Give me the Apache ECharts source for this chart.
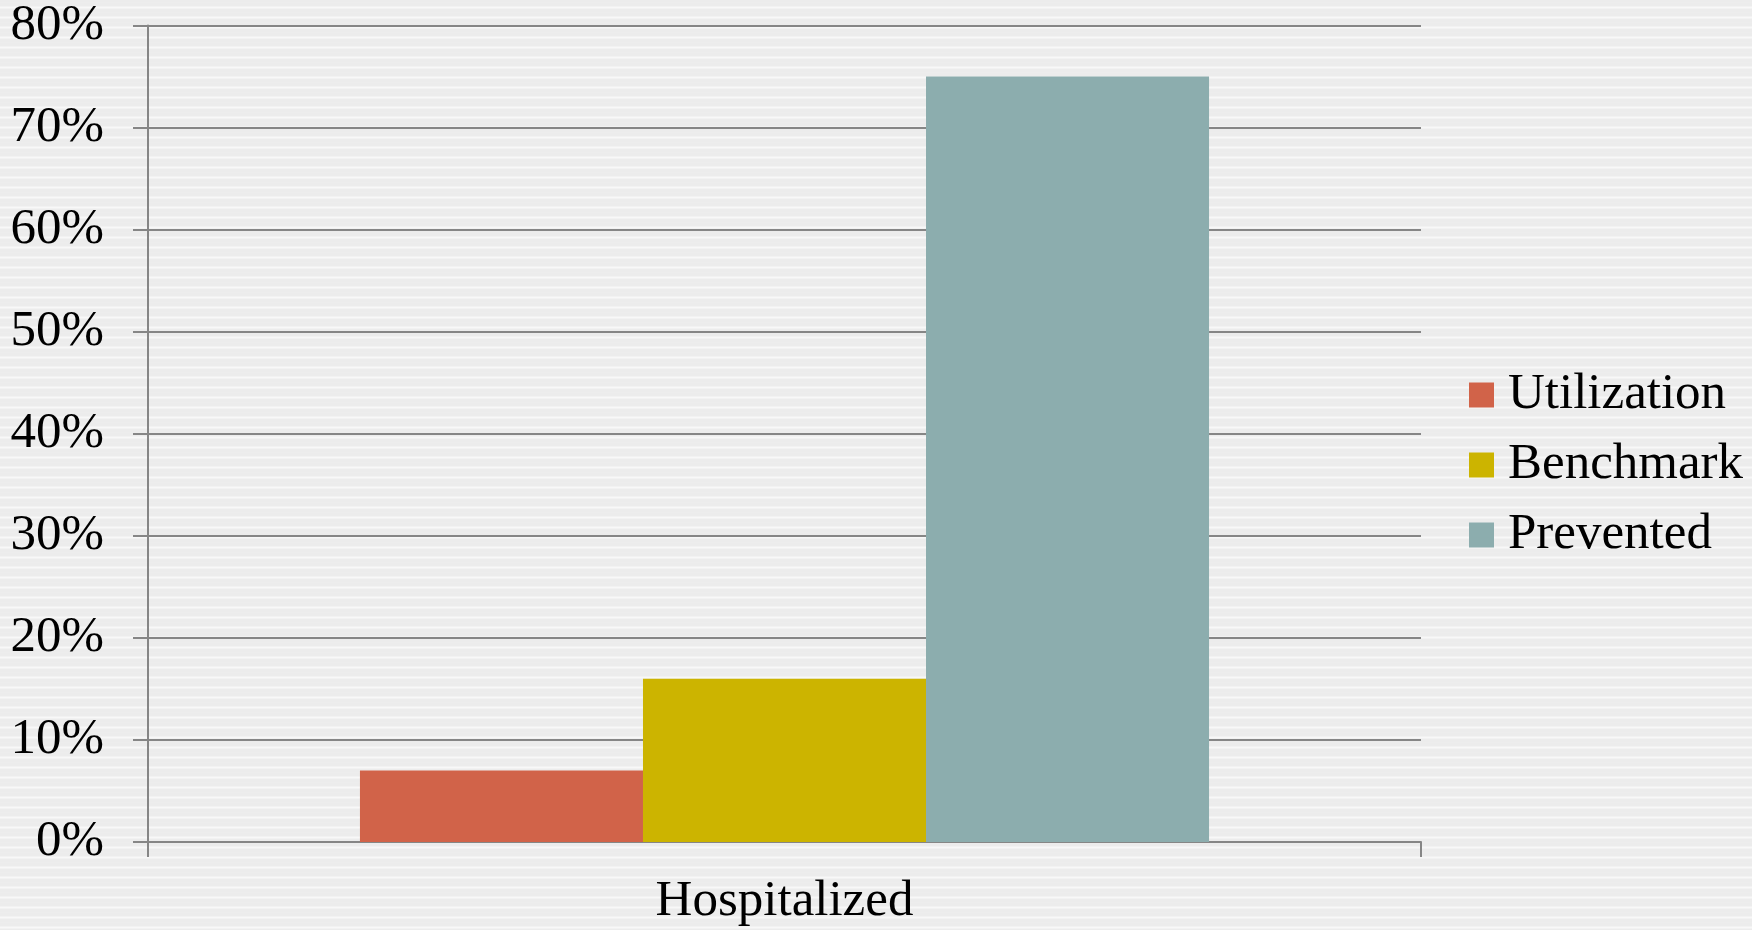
<!DOCTYPE html>
<html>
<head>
<meta charset="utf-8">
<script src="https://cdn.jsdelivr.net/npm/echarts@6/dist/echarts.min.js"></script>
<style>
  html, body { margin: 0; padding: 0; }
  #chart { width: 1752px; height: 930px; }
</style>
</head>
<body>
<div id="chart"></div>
<script>
// Chart data
const categories = ['Hospitalized'];
const seriesNames = ['Utilization', 'Benchmark', 'Prevented'];
const utilization = [7];
const benchmark = [16];
const prevented = [75];
const yTicks = { min: 0, max: 80, interval: 10 };

const colors = ['#d16349', '#ccb400', '#8cadae'];
const FONT = '"Liberation Serif", "DejaVu Serif", serif';
const FONT_SIZE = 51;

// Striped page background, drawn as a repeating pattern tile
function stripeTile() {
  const c = document.createElement('canvas');
  c.width = 8; c.height = 10;
  const g = c.getContext('2d');
  const rows = ['#ececec','#ececec','#ededed','#ececec','#ececec','#ececec','#f2f2f2','#f8f8f8','#f2f2f2','#ececec'];
  rows.forEach((col, i) => { g.fillStyle = col; g.fillRect(0, i, 8, 1); });
  return c;
}

const chart = echarts.init(document.getElementById('chart'), null, { renderer: 'canvas' });

const values = [utilization, benchmark, prevented];

chart.setOption({
  backgroundColor: { image: stripeTile(), repeat: 'repeat' },
  animation: false,
  color: colors,
  grid: { left: 148, right: 331, top: 24, bottom: 88, containLabel: false },
  legend: {
    orient: 'vertical',
    left: 1464,
    top: 'middle',
    data: seriesNames,
    icon: 'rect',
    itemWidth: 25,
    itemHeight: 25,
    itemGap: 18,
    textStyle: { fontFamily: FONT, fontSize: FONT_SIZE, lineHeight: 52, color: '#000', padding: [0, 0, 0, 9] }
  },
  xAxis: {
    type: 'category',
    data: categories,
    boundaryGap: true,
    axisLine: { show: true, lineStyle: { color: '#868686', width: 2 } },
    axisTick: { show: true, inside: false, length: 15, lineStyle: { color: '#868686', width: 2 } },
    axisLabel: { fontFamily: FONT, fontSize: FONT_SIZE, color: '#000', margin: 34 },
    splitLine: { show: false }
  },
  yAxis: {
    type: 'value',
    min: yTicks.min,
    max: yTicks.max,
    interval: yTicks.interval,
    axisLine: { show: true, lineStyle: { color: '#868686', width: 2 } },
    axisTick: { show: true, inside: false, length: 15, lineStyle: { color: '#868686', width: 2 } },
    axisLabel: { fontFamily: FONT, fontSize: FONT_SIZE, color: '#000', margin: 44, formatter: v => v + '%' },
    splitLine: { show: true, lineStyle: { color: '#868686', width: 2 } }
  },
  series: seriesNames.map((name, i) => ({
    name,
    type: 'bar',
    data: values[i],
    barGap: '0%',
    barCategoryGap: '33.3%',
    itemStyle: { color: colors[i] }
  }))
});
</script>
</body>
</html>
